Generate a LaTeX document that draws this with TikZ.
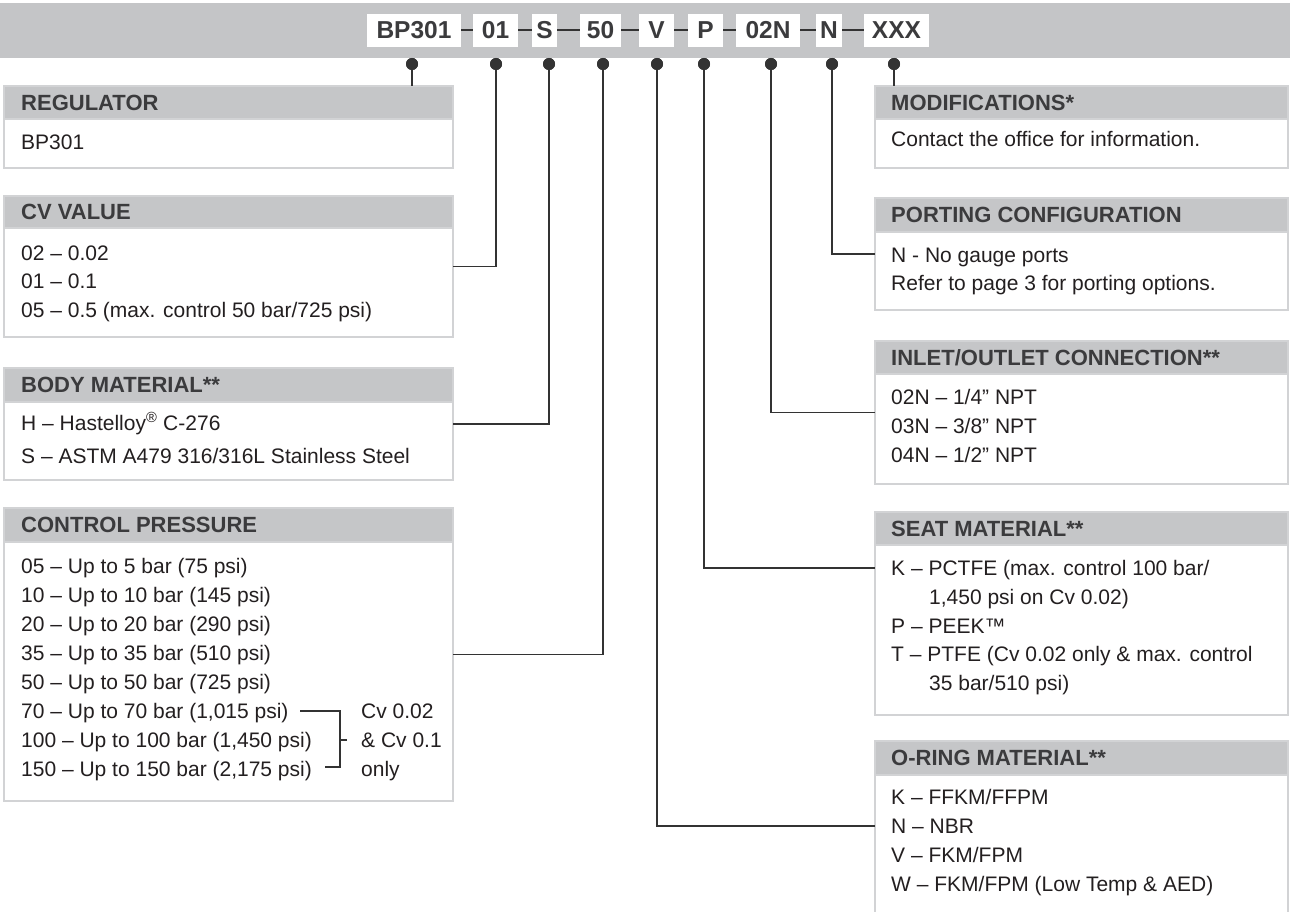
\documentclass[tikz,border=0pt]{standalone}
\usepackage{fontspec}
\setmainfont{Liberation Sans}
\definecolor{bargrey}{HTML}{C4C5C7}
\definecolor{hdrgrey}{HTML}{C5C6C8}
\definecolor{bordergrey}{HTML}{D2D3D5}
\definecolor{txt}{HTML}{231F20}
\definecolor{hdrtxt}{HTML}{3B3B3D}
\definecolor{linec}{HTML}{333333}
\begin{document}
\begin{tikzpicture}[x=1pt,y=-1pt,
 box/.style={draw=bordergrey, line width=1.5pt, fill=white, anchor=north west, inner sep=0pt, outer sep=0pt},
 hdr/.style={draw=bordergrey, line width=1.5pt, fill=hdrgrey, anchor=north west, inner sep=0pt, outer sep=0pt},
 hdrtext/.style={anchor=west, font=\fontsize{22}{26}\selectfont\bfseries, text=hdrtxt, inner sep=0pt},
 body/.style={anchor=base west, font=\fontsize{21}{25}\selectfont, text=txt, inner sep=0pt},
 code/.style={fill=white, anchor=north west, inner sep=0pt, outer sep=0pt, minimum height=33pt, font=\fontsize{24.5}{28}\selectfont\bfseries, text=hdrtxt},
 dot/.style={circle, fill=linec, minimum size=12pt, inner sep=0pt},
 conn/.style={draw=linec, line width=1.3pt},
 dashln/.style={draw=linec, line width=2pt},
 brk/.style={draw=linec, line width=1.1pt}]
\useasboundingbox (0,0) rectangle (1290,912);
% top bar
\node[fill=bargrey, anchor=north west, minimum width=1290pt, minimum height=55pt, inner sep=0pt] (bar) at (0,3) {};
\node[code, minimum width=94pt] (cBP) at (367,14) {BP301};
\node[code, minimum width=45pt] (c01) at (473,14) {01};
\node[code, minimum width=25pt] (cS) at (532,14) {S};
\node[code, minimum width=41pt] (c50) at (580,14) {50};
\node[code, minimum width=35pt] (cV) at (639,14) {V};
\node[code, minimum width=35pt] (cP) at (688,14) {P};
\node[code, minimum width=64pt] (c02N) at (736,14) {02N};
\node[code, minimum width=26pt] (cN) at (816,14) {N};
\node[code, minimum width=65pt] (cX) at (864,14) {XXX};
\draw[dashln] (cBP.east) -- (c01.west);
\draw[dashln] (c01.east) -- (cS.west);
\draw[dashln] (cS.east) -- (c50.west);
\draw[dashln] (c50.east) -- (cV.west);
\draw[dashln] (cV.east) -- (cP.west);
\draw[dashln] (cP.east) -- (c02N.west);
\draw[dashln] (c02N.east) -- (cN.west);
\draw[dashln] (cN.east) -- (cX.west);

% left boxes
\node[box, minimum width=449pt, minimum height=82pt] (reg) at (4,86) {};
\node[hdr, minimum width=449pt, minimum height=33pt] (regH) at (4,86) {};
\node[hdrtext] (regT) at (21,102.5) {REGULATOR};
\node[body] (reg1) at (21,150) {BP301};

\node[box, minimum width=449pt, minimum height=141pt] (cv) at (4,196) {};
\node[hdr, minimum width=449pt, minimum height=32pt] (cvH) at (4,196) {};
\node[hdrtext] (cvT) at (21,212) {CV VALUE};
\node[body] (cv1) at (21,260) {02 – 0.02};
\node[body] (cv2) at (21,288.5) {01 – 0.1};
\node[body] (cv3) at (21,317) {05 – 0.5 (max. control 50 bar/725 psi)};

\node[box, minimum width=449pt, minimum height=112pt] (body) at (4,368) {};
\node[hdr, minimum width=449pt, minimum height=34pt] (bodyH) at (4,368) {};
\node[hdrtext] (bodyT) at (21,385) {BODY MATERIAL**};
\node[body] (body1) at (21,430) {H – Hastelloy\textsuperscript{®} C-276};
\node[body] (body2) at (21,463) {S – ASTM A479 316/316L Stainless Steel};

\node[box, minimum width=449pt, minimum height=293pt] (ctrl) at (4,508) {};
\node[hdr, minimum width=449pt, minimum height=34pt] (ctrlH) at (4,508) {};
\node[hdrtext] (ctrlT) at (21,525) {CONTROL PRESSURE};
\node[body] (ct1) at (21,573) {05 – Up to 5 bar (75 psi)};
\node[body] (ct2) at (21,602) {10 – Up to 10 bar (145 psi)};
\node[body] (ct3) at (21,631) {20 – Up to 20 bar (290 psi)};
\node[body] (ct4) at (21,660) {35 – Up to 35 bar (510 psi)};
\node[body] (ct5) at (21,689) {50 – Up to 50 bar (725 psi)};
\node[body] (ct6) at (21,718) {70 – Up to 70 bar (1,015 psi)};
\node[body] (ct7) at (21,747) {100 – Up to 100 bar (1,450 psi)};
\node[body] (ct8) at (21,776) {150 – Up to 150 bar (2,175 psi)};
\node[body] (cn1) at (361,718) {Cv 0.02};
\node[body] (cn2) at (361,747) {\& Cv 0.1};
\node[body] (cn3) at (361,776) {only};
\coordinate (b1) at (300,711);
\coordinate (b2) at (340,711);
\coordinate (b3) at (340,767);
\coordinate (b4) at (325,767);
\coordinate (bm) at (340,740);
\coordinate (bt) at (347,740);
\draw[brk] (b1) -- (b2) -- (b3) -- (b4);
\draw[brk] (bm) -- (bt);

% right boxes
\node[box, minimum width=413pt, minimum height=82pt] (mod) at (875,86) {};
\node[hdr, minimum width=413pt, minimum height=33pt] (modH) at (875,86) {};
\node[hdrtext] (modT) at (891,102.5) {MODIFICATIONS*};
\node[body] (mod1) at (891,147) {Contact the office for information.};

\node[box, minimum width=413pt, minimum height=112pt] (port) at (875,198) {};
\node[hdr, minimum width=413pt, minimum height=34pt] (portH) at (875,198) {};
\node[hdrtext] (portT) at (891,215) {PORTING CONFIGURATION};
\node[body] (port1) at (891,262) {N - No gauge ports};
\node[body] (port2) at (891,290) {Refer to page 3 for porting options.};

\node[box, minimum width=413pt, minimum height=143pt] (inlet) at (875,341) {};
\node[hdr, minimum width=413pt, minimum height=33pt] (inletH) at (875,341) {};
\node[hdrtext] (inletT) at (891,357.5) {INLET/OUTLET CONNECTION**};
\node[body] (in1) at (891,404) {02N – 1/4” NPT};
\node[body] (in2) at (891,433) {03N – 3/8” NPT};
\node[body] (in3) at (891,462) {04N – 1/2” NPT};

\node[box, minimum width=413pt, minimum height=203pt] (seat) at (875,512) {};
\node[hdr, minimum width=413pt, minimum height=33pt] (seatH) at (875,512) {};
\node[hdrtext] (seatT) at (891,528.5) {SEAT MATERIAL**};
\node[body] (se1) at (891,575) {K – PCTFE (max. control 100 bar/};
\node[body] (se2) at (929,604) {1,450 psi on Cv 0.02)};
\node[body] (se3) at (891,633) {P – PEEK™};
\node[body] (se4) at (891,661) {T – PTFE (Cv 0.02 only \& max. control};
\node[body] (se5) at (929,690) {35 bar/510 psi)};

\node[box, minimum width=413pt, minimum height=190pt] (oring) at (875,741) {};
\node[hdr, minimum width=413pt, minimum height=34pt] (oringH) at (875,741) {};
\node[hdrtext] (oringT) at (891,758) {O-RING MATERIAL**};
\node[body] (or1) at (891,804) {K – FFKM/FFPM};
\node[body] (or2) at (891,833) {N – NBR};
\node[body] (or3) at (891,862) {V – FKM/FPM};
\node[body] (or4) at (891,891) {W – FKM/FPM (Low Temp \& AED)};

% dots
\node[dot] (dBP) at (412,64) {};
\node[dot] (d01) at (496,64) {};
\node[dot] (dS) at (549,64) {};
\node[dot] (d50) at (603,64) {};
\node[dot] (dV) at (657,64) {};
\node[dot] (dP) at (704,64) {};
\node[dot] (d02N) at (771,64) {};
\node[dot] (dN) at (832,64) {};
\node[dot] (dX) at (894,64) {};
\coordinate (seatK) at (875,568);
\coordinate (oringN) at (875,826);
% connectors
\draw[conn] (dBP.center) -- (dBP.center |- reg.north);
\draw[conn] (d01.center) |- (cv.east);
\draw[conn] (dS.center) |- (body.east);
\draw[conn] (d50.center) |- (ctrl.east);
\draw[conn] (dV.center) |- (oringN);
\draw[conn] (dP.center) |- (seatK);
\draw[conn] (d02N.center) |- (inlet.west);
\draw[conn] (dN.center) |- (port.west);
\draw[conn] (dX.center) -- (dX.center |- mod.north);
\foreach \d in {dBP,d01,dS,d50,dV,dP,d02N,dN,dX} \fill[linec] (\d) circle (6pt);
\end{tikzpicture}
\end{document}
